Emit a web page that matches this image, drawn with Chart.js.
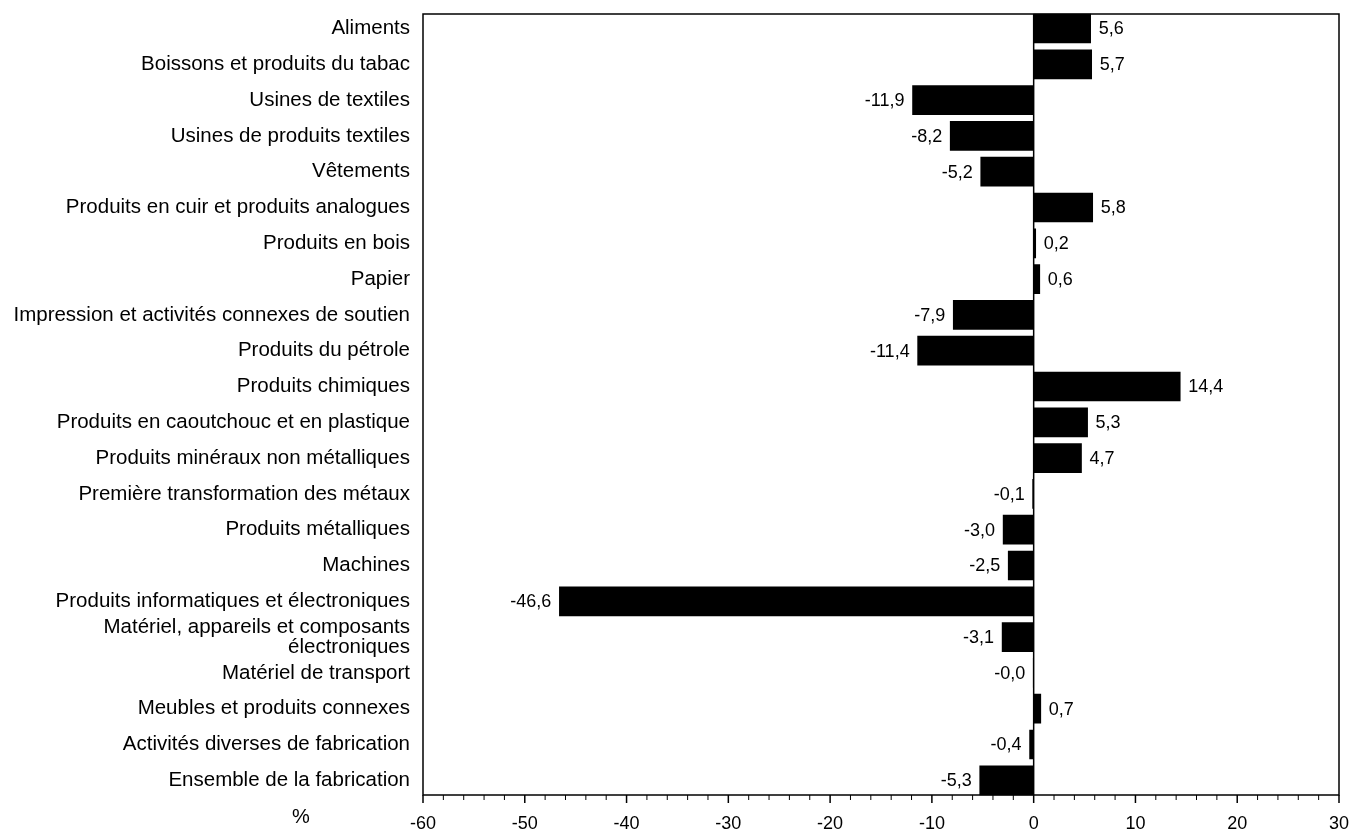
<!DOCTYPE html>
<html>
<head>
<meta charset="utf-8">
<script src="https://cdn.jsdelivr.net/npm/chart.js@4/dist/chart.umd.min.js"></script>
<style>
  body { margin: 0; background: #fff; }
</style>
</head>
<body>
<canvas id="myChart" width="1351" height="832"></canvas>
<script>
  const categories = [
    'Aliments',
    'Boissons et produits du tabac',
    'Usines de textiles',
    'Usines de produits textiles',
    'Vêtements',
    'Produits en cuir et produits analogues',
    'Produits en bois',
    'Papier',
    'Impression et activités connexes de soutien',
    'Produits du pétrole',
    'Produits chimiques',
    'Produits en caoutchouc et en plastique',
    'Produits minéraux non métalliques',
    'Première transformation des métaux',
    'Produits métalliques',
    'Machines',
    'Produits informatiques et électroniques',
    ['Matériel, appareils et composants', 'électroniques'],
    'Matériel de transport',
    'Meubles et produits connexes',
    'Activités diverses de fabrication',
    'Ensemble de la fabrication'
  ];
  const changeValues = [5.6, 5.7, -11.9, -8.2, -5.2, 5.8, 0.2, 0.6, -7.9, -11.4, 14.4,
    5.3, 4.7, -0.1, -3.0, -2.5, -46.6, -3.1, -0.04, 0.7, -0.4, -5.3];
  const xMin = -60, xMax = 30;

  const fontFam = '"Liberation Sans", Arial, Helvetica, sans-serif';
  const boxTop = 14, boxBottom = 795;

  // box, zero line, x ticks, value labels
  const extras = {
    id: 'extras',
    afterDraw(chart) {
      const c = chart.ctx;
      const a = chart.chartArea;
      const xs = chart.scales.x;
      c.save();
      c.strokeStyle = '#000';
      c.lineWidth = 1.5;
      c.strokeRect(a.left, boxTop, a.right - a.left, boxBottom - boxTop);
      const x0 = xs.getPixelForValue(0);
      c.beginPath();
      c.moveTo(x0, boxTop);
      c.lineTo(x0, boxBottom);
      c.stroke();
      for (let v = xMin; v <= xMax; v += 2) {
        const px = xs.getPixelForValue(v);
        const major = v % 10 === 0;
        c.lineWidth = major ? 1.5 : 1;
        c.beginPath();
        c.moveTo(px, boxBottom);
        c.lineTo(px, boxBottom + (major ? 8 : 5));
        c.stroke();
      }
      const meta = chart.getDatasetMeta(0);
      c.fillStyle = '#000';
      c.font = '18px ' + fontFam;
      c.textBaseline = 'middle';
      meta.data.forEach((bar, i) => {
        const v = changeValues[i];
        const txt = v.toFixed(1).replace('.', ',');
        if (v >= 0) {
          c.textAlign = 'left';
          c.fillText(txt, bar.x + 8, bar.y + 1);
        } else {
          c.textAlign = 'right';
          c.fillText(txt, bar.x - 8, bar.y + 1);
        }
      });
      c.font = '20px ' + fontFam;
      c.textAlign = 'center';
      c.fillText('%', 301, 817);
      c.restore();
    }
  };

  const ctx = document.getElementById('myChart');
  new Chart(ctx, {
    type: 'bar',
    data: {
      labels: categories,
      datasets: [{
        data: changeValues,
        backgroundColor: '#000',
        borderWidth: 0,
        barThickness: 29
      }]
    },
    options: {
      indexAxis: 'y',
      responsive: false,
      animation: false,
      layout: { padding: { top: 10.6, right: 12, left: 0, bottom: 0 } },
      plugins: { legend: { display: false }, tooltip: { enabled: false } },
      scales: {
        x: {
          min: xMin,
          max: xMax,
          afterFit(s) {
            s.height = 33.8;
            s.paddingLeft = 0;
            s.paddingRight = 0;
          },
          ticks: {
            stepSize: 10,
            autoSkip: false,
            maxRotation: 0,
            padding: 7,
            color: '#000',
            font: { family: fontFam, size: 18 }
          },
          grid: { display: false },
          border: { display: false }
        },
        y: {
          afterFit(s) {
            s.width = 423;
            s.paddingTop = 0;
            s.paddingBottom = 0;
          },
          ticks: {
            padding: 13,
            color: '#000',
            autoSkip: false,
            font: { family: fontFam, size: 20.5, lineHeight: 1 }
          },
          grid: { display: false, drawTicks: false },
          border: { display: false }
        }
      }
    },
    plugins: [extras]
  });
</script>
</body>
</html>
